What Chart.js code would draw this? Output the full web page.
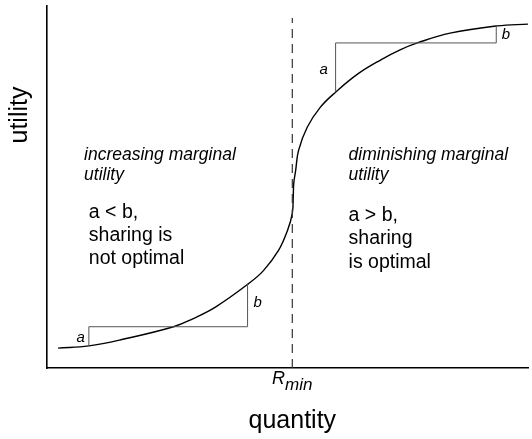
<!DOCTYPE html>
<html lang="en">
<head>
    <meta charset="UTF-8">
    <title>Utility vs quantity</title>
    <script src="https://cdn.jsdelivr.net/npm/chart.js"></script>
    <style>
        body {
            margin: 0;
            background: #fff;
        }
        canvas {
            display: block;
        }
    </style>
</head>
<body>
<canvas id="utilityChart" width="532" height="439"></canvas>

<script>
  // S-shaped utility curve (quantity 0-100, utility 0-100)
  const curveQuantity = [2.3, 8.7, 16.0, 26.3, 30.3, 35.1, 41.9, 45.0, 48.1, 50.0, 51.0, 51.2, 51.3, 51.7, 52.3, 54.1, 56.8, 60.0, 64.7, 69.5, 73.4, 77.0, 83.8, 93.6, 100];
  const curveUtility = [5.5, 6.1, 8.0, 11.4, 13.6, 16.9, 23.3, 26.9, 32.4, 38.0, 42.7, 47.6, 51.0, 54.6, 60.1, 66.5, 72.0, 76.2, 81.3, 85.2, 87.9, 89.8, 92.5, 94.5, 95.0];

  // R_min marker
  const rMin = 51.0;
  const rMinTop = 96.7;

  // step lines (a / b) in the two regions
  const lowStepQuantity = [8.7, 8.7, 41.7, 41.7];
  const lowStepUtility = [6.1, 11.4, 11.4, 23.3];
  const highStepQuantity = [60.0, 60.0, 93.4, 93.4];
  const highStepUtility = [76.2, 89.8, 89.8, 94.4];

  const toPoints = (xs, ys) => xs.map((x, i) => ({ x: x, y: ys[i] }));

  const font = "'Liberation Sans', Arial, sans-serif";

  // text notes, placed in data units
  const notes = [
    { text: 'a', x: 7.0, y: 8.3, size: 15, italic: true, align: 'center' },
    { text: 'b', x: 43.8, y: 18.0, size: 15, italic: true, align: 'center' },
    { text: 'a', x: 57.5, y: 82.3, size: 15, italic: true, align: 'center' },
    { text: 'b', x: 95.4, y: 92.0, size: 15, italic: true, align: 'center' },
    { text: 'increasing marginal', x: 7.7, y: 58.7, size: 17.5, italic: true, align: 'left' },
    { text: 'utility', x: 7.7, y: 53.2, size: 17.5, italic: true, align: 'left' },
    { text: 'a < b,', x: 8.7, y: 42.9, size: 19.5, italic: false, align: 'left' },
    { text: 'sharing is', x: 8.7, y: 36.6, size: 19.5, italic: false, align: 'left' },
    { text: 'not optimal', x: 8.7, y: 30.2, size: 19.5, italic: false, align: 'left' },
    { text: 'diminishing marginal', x: 62.7, y: 58.7, size: 17.5, italic: true, align: 'left' },
    { text: 'utility', x: 62.7, y: 53.2, size: 17.5, italic: true, align: 'left' },
    { text: 'a > b,', x: 62.7, y: 42.1, size: 19.5, italic: false, align: 'left' },
    { text: 'sharing', x: 62.7, y: 35.7, size: 19.5, italic: false, align: 'left' },
    { text: 'is optimal', x: 62.7, y: 29.1, size: 19.5, italic: false, align: 'left' }
  ];

  const notesPlugin = {
    id: 'notes',
    afterDraw(chart) {
      const ctx = chart.ctx;
      const xs = chart.scales.x;
      const ys = chart.scales.y;
      const area = chart.chartArea;
      ctx.save();
      ctx.fillStyle = '#000';
      ctx.textBaseline = 'middle';
      notes.forEach(n => {
        ctx.font = (n.italic ? 'italic ' : '') + n.size + 'px ' + font;
        ctx.textAlign = n.align;
        ctx.fillText(n.text, xs.getPixelForValue(n.x), ys.getPixelForValue(n.y));
      });

      // R_min under the axis
      const rx = xs.getPixelForValue(rMin);
      ctx.textAlign = 'left';
      ctx.font = 'italic 18px ' + font;
      const rw = ctx.measureText('R').width;
      ctx.font = 'italic 17px ' + font;
      const mw = ctx.measureText('min').width;
      const start = rx - (rw + mw) / 2;
      ctx.font = 'italic 18px ' + font;
      ctx.fillText('R', start, area.bottom + 11);
      ctx.font = 'italic 17px ' + font;
      ctx.fillText('min', start + rw, area.bottom + 17);

      // axis titles
      ctx.font = '25px ' + font;
      ctx.textAlign = 'center';
      ctx.fillText('quantity', rx, area.bottom + 53);
      ctx.translate(20, 115);
      ctx.rotate(-Math.PI / 2);
      ctx.fillText('utility', 0, 0);
      ctx.restore();
    }
  };

  const ctx = document.getElementById('utilityChart').getContext('2d');
  new Chart(ctx, {
    type: 'scatter',
    data: {
      datasets: [
        {
          data: toPoints([rMin, rMin], [0, rMinTop]),
          showLine: true,
          borderColor: '#333',
          borderWidth: 1.2,
          borderDash: [9, 6],
          pointRadius: 0
        },
        {
          data: toPoints(lowStepQuantity, lowStepUtility),
          showLine: true,
          borderColor: '#555',
          borderWidth: 1,
          pointRadius: 0
        },
        {
          data: toPoints(highStepQuantity, highStepUtility),
          showLine: true,
          borderColor: '#555',
          borderWidth: 1,
          pointRadius: 0
        },
        {
          data: toPoints(curveQuantity, curveUtility),
          showLine: true,
          borderColor: '#000',
          borderWidth: 1.4,
          tension: 0.4,
          pointRadius: 0
        }
      ]
    },
    options: {
      responsive: false,
      animation: false,
      layout: {
        padding: { left: 39, right: 4, top: 6, bottom: 63 }
      },
      plugins: {
        legend: { display: false },
        tooltip: { enabled: false }
      },
      scales: {
        x: {
          min: 0,
          max: 100,
          grid: { display: false },
          ticks: { display: false },
          border: { display: true, color: '#000', width: 1.6 }
        },
        y: {
          min: 0,
          max: 100,
          grid: { display: false },
          ticks: { display: false },
          border: { display: true, color: '#000', width: 1.6 }
        }
      }
    },
    plugins: [notesPlugin]
  });
</script>
</body>
</html>
